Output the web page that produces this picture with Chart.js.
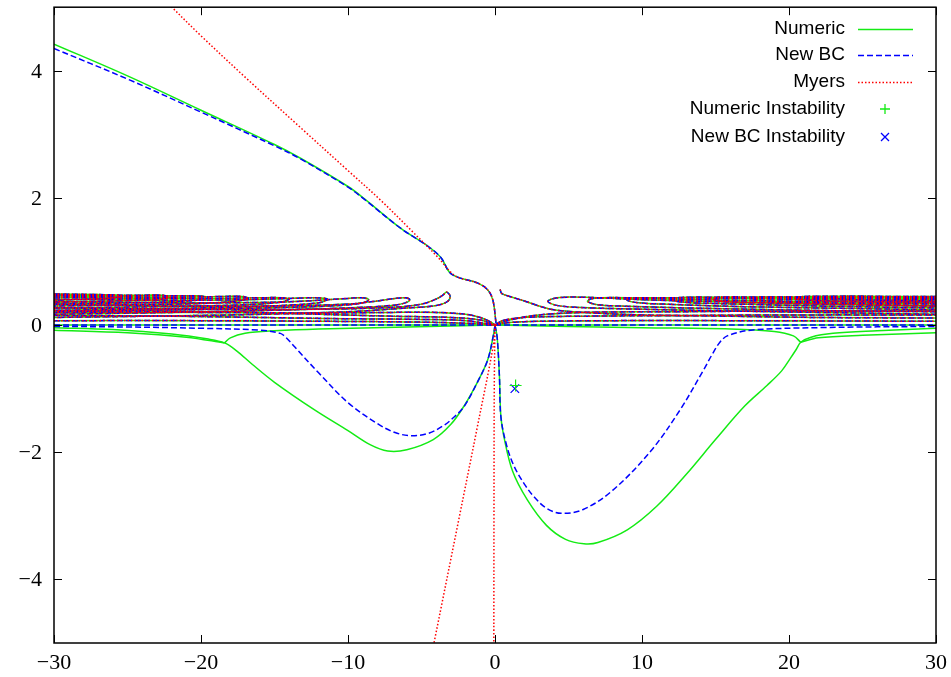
<!DOCTYPE html>
<html>
<head>
<meta charset="utf-8">
<script src="https://cdn.jsdelivr.net/npm/chart.js@4/dist/chart.umd.min.js"></script>
<style>
  html, body { margin: 0; padding: 0; background: #fff; }
  #wrap { width: 951px; height: 677px; }
</style>
</head>
<body>
<div id="wrap"><canvas id="chart" width="951" height="677"></canvas></div>
<script>
// ticks
const xTickValues = [-30, -20, -10, 0, 10, 20, 30];
const yTickValues = [-4, -2, 0, 2, 4];
const legendLabels = ['Numeric', 'New BC', 'Myers', 'Numeric Instability', 'New BC Instability'];

// upper branch
const upperNumeric = [[-30,4.42],[-25,3.92],[-20,3.38],[-15,2.84],[-13.2,2.62],[-10,2.18],[-8.9,1.99],[-6.4,1.52],[-4.56,1.24],[-3.67,1.06],[-3.1,0.83],[-2.5,0.75],[-1.16,0.66],[-0.48,0.55],[-0.14,0.39],[0.07,0.03]];
const upperNewBC = [[-30,4.35],[-25,3.87],[-20,3.35],[-15,2.82],[-13.2,2.61],[-10,2.17],[-8.9,1.98],[-6.4,1.52],[-4.56,1.24],[-3.67,1.06],[-3.1,0.83],[-2.5,0.75],[-1.16,0.66],[-0.48,0.55],[-0.14,0.39],[0.07,0.03]];
const upperMyers = [[-22.2,5.05],[-20,4.55],[-17,3.9],[-13.2,3.1],[-10,2.43],[-7.76,1.96],[-5.7,1.49],[-3.9,1.07],[-3.0,0.83],[-2.5,0.75],[-1.16,0.66],[-0.48,0.55],[-0.14,0.39],[0.07,0.03]];

// band of loops near zero (shared by all three)
const loopL1 = [[-30,0.27],[-20,0.25],[-12,0.25],[-7,0.28],[-5,0.33],[-4,0.41],[-3.5,0.48],[-3.3,0.52],[-3.05,0.45],[-3.3,0.36],[-4.2,0.3],[-6,0.27],[-10,0.21],[-18,0.16],[-30,0.12]];
const loopL2 = [[-30,0.33],[-22,0.3],[-15,0.3],[-10,0.33],[-8,0.38],[-6.8,0.42],[-6.1,0.43],[-5.8,0.4],[-6.1,0.35],[-7,0.31],[-9,0.28],[-14,0.24],[-22,0.2],[-30,0.17]];
const loopL3 = [[-30,0.37],[-22,0.35],[-15,0.36],[-12,0.39],[-10,0.42],[-9,0.43],[-8.6,0.4],[-9,0.35],[-10.5,0.31],[-14,0.28],[-22,0.24],[-30,0.21]];
const loopL4 = [[-30,0.41],[-22,0.39],[-17,0.4],[-14,0.42],[-12.2,0.43],[-11.4,0.41],[-11.8,0.36],[-13.5,0.32],[-18,0.28],[-25,0.25],[-30,0.23]];
const loopL5 = [[-30,0.44],[-24,0.42],[-19,0.42],[-16,0.43],[-14.5,0.43],[-14,0.41],[-14.6,0.36],[-17,0.32],[-23,0.29],[-30,0.27]];
const loopL6 = [[-30,0.46],[-25,0.44],[-21,0.44],[-18.5,0.45],[-17.2,0.45],[-16.8,0.42],[-17.5,0.38],[-20,0.34],[-25,0.32],[-30,0.3]];
const loopL7 = [[-30,0.47],[-26,0.46],[-23,0.46],[-20.3,0.46],[-19.5,0.43],[-20.3,0.39],[-23,0.36],[-30,0.33]];
const loopL8 = [[-30,0.48],[-27,0.47],[-24,0.47],[-22.6,0.47],[-22.2,0.44],[-23,0.4],[-26,0.38],[-30,0.36]];
const loopL9 = [[-30,0.49],[-27,0.48],[-25.6,0.47],[-25.4,0.45],[-26.5,0.42],[-30,0.39]];
const midL1 = [[-30,0.07],[-20,0.07],[-12,0.06],[-6,0.05],[-2,0.03],[0,0]];
const midL2 = [[-30,0.2],[-20,0.2],[-12,0.19],[-7,0.2],[-4,0.2],[-2,0.17],[-1,0.12],[-0.3,0.05],[0,0]];
const midL3 = [[-30,0.15],[-22,0.14],[-16,0.12],[-10,0.1],[-5,0.09],[-2,0.07],[0,0]];
const midL4 = [[-30,0.23],[-24,0.22],[-18,0.21],[-12,0.17],[-7,0.14],[-3,0.12],[-1,0.08],[0,0]];

const rootR = [[0.35,0.56],[0.45,0.5],[1,0.45],[2,0.38],[3,0.3],[4,0.24],[6,0.2],[10,0.16],[16,0.14],[22,0.12],[30,0.11]];
const loopR1 = [[30,0.3],[22,0.34],[15,0.37],[10,0.4],[7,0.43],[5,0.44],[4,0.42],[3.6,0.37],[4.2,0.31],[5.5,0.28],[8,0.26],[14,0.23],[22,0.2],[30,0.17]];
const loopR2 = [[30,0.34],[22,0.37],[16,0.39],[12,0.41],[9,0.43],[7.3,0.43],[6.5,0.41],[6.3,0.37],[7,0.32],[8.5,0.3],[13,0.27],[22,0.23],[30,0.21]];
const loopR3 = [[30,0.37],[22,0.4],[16,0.42],[12,0.43],[10,0.43],[9.2,0.42],[9,0.39],[9.8,0.35],[11.5,0.33],[17,0.29],[30,0.24]];
const loopR4 = [[30,0.4],[22,0.42],[17,0.43],[14,0.44],[12.4,0.43],[12,0.4],[12.8,0.36],[15,0.34],[22,0.3],[30,0.27]];
const loopR5 = [[30,0.42],[24,0.43],[18,0.44],[15.3,0.44],[14.8,0.41],[15.6,0.37],[18,0.35],[24,0.32],[30,0.3]];
const loopR6 = [[30,0.43],[25,0.44],[20,0.44],[18,0.44],[17.6,0.41],[18.5,0.38],[22,0.35],[30,0.33]];
const loopR7 = [[30,0.44],[25,0.45],[21,0.45],[20.4,0.42],[21.5,0.39],[25,0.37],[30,0.36]];
const loopR8 = [[30,0.45],[26,0.45],[23.6,0.45],[23.3,0.42],[24.5,0.4],[30,0.38]];
const midR1 = [[0,0],[1,0.04],[3,0.06],[8,0.07],[16,0.07],[30,0.06]];
const midR2 = [[0,0],[0.5,0.07],[1.5,0.11],[3,0.13],[6,0.14],[12,0.15],[20,0.16],[30,0.16]];
const midR3 = [[0,0],[1,0.08],[3,0.16],[6,0.2],[12,0.21],[20,0.22],[30,0.22]];
const zeroLine = [[-30,0],[30,0]];

// lower branches
const numLowL1 = [[-30,-0.04],[-26,-0.07],[-22,-0.14],[-19.5,-0.22],[-18.4,-0.28],[-17.6,-0.4],[-16.5,-0.62],[-15,-0.9],[-12.3,-1.33],[-10,-1.66],[-8.5,-1.88],[-7.3,-1.98],[-6,-1.96],[-4.2,-1.8],[-3,-1.56],[-2.1,-1.27],[-1.2,-0.9],[-0.5,-0.55],[-0.1,-0.15],[0,0]];
const numLowL2 = [[-18.4,-0.28],[-18,-0.2],[-17,-0.13],[-15,-0.09],[-12,-0.06],[-6,-0.03],[0,0]];
const numLowL3 = [[-30,-0.08],[-25,-0.12],[-21,-0.19],[-18.4,-0.28]];
const numLowR1 = [[0,0],[0.15,-0.2],[0.3,-0.8],[0.4,-1.44],[0.6,-1.75],[1.2,-2.3],[2.2,-2.75],[3.5,-3.15],[4.8,-3.37],[6.05,-3.44],[7,-3.42],[9,-3.22],[11,-2.85],[13,-2.35],[15,-1.8],[17,-1.27],[18.5,-0.95],[19.5,-0.72],[20.1,-0.52],[20.5,-0.38],[20.8,-0.27],[21.5,-0.19],[23,-0.13],[26,-0.09],[30,-0.05]];
const numLowR2 = [[20.8,-0.27],[20.3,-0.17],[19,-0.1],[16,-0.06],[10,-0.04],[0,0]];
const numLowR3 = [[20.8,-0.27],[22,-0.2],[25,-0.16],[30,-0.12]];
const newBCLowL = [[-30,-0.02],[-25,-0.03],[-20,-0.05],[-16,-0.08],[-14.6,-0.13],[-14.2,-0.2],[-13.6,-0.35],[-12,-0.75],[-10,-1.22],[-8,-1.55],[-6.8,-1.69],[-5.7,-1.74],[-4.5,-1.7],[-3.5,-1.58],[-2.8,-1.45],[-2.1,-1.28],[-1.2,-0.9],[-0.5,-0.55],[-0.1,-0.15],[0,0]];
const newBCLowR = [[0,0],[0.15,-0.2],[0.3,-0.8],[0.4,-1.44],[0.8,-1.9],[1.3,-2.22],[2,-2.5],[2.65,-2.7],[3.5,-2.88],[4.5,-2.96],[6,-2.9],[8,-2.6],[10.6,-1.98],[12.6,-1.33],[14.2,-0.7],[14.8,-0.45],[15.3,-0.27],[15.8,-0.17],[17.4,-0.08],[22,-0.04],[30,-0.02]];
const myersLowA = [[0,0],[-0.1,-0.3],[-1.2,-1.6],[-2.5,-3.1],[-4.15,-5.0]];
const myersLowB = [[0,0],[-0.05,-1],[-0.07,-3],[-0.08,-5]];

// instability points
const numericInstability = [[1.4, -0.95]];
const newBCInstability = [[1.35, -1.0]];

const GREEN = 'rgb(20,235,20)';
const BLUE = 'rgb(0,0,255)';
const RED = 'rgb(255,0,0)';
const DASH = [6, 3];
const DOT = [1.5, 2];
const TICK_FONT = '22px "Liberation Serif", "DejaVu Serif", serif';

const band = [loopL1, loopL2, loopL3, loopL4, loopL5, loopL6, loopL7, loopL8, loopL9, midL1, midL2, midL3, midL4,
  rootR, loopR1, loopR2, loopR3, loopR4, loopR5, loopR6, loopR7, loopR8, midR1, midR2, midR3];

function toXY(arr) { return arr.map(p => ({ x: p[0], y: p[1] })); }

function lineSet(arr, color, dash, order) {
  return {
    data: toXY(arr),
    showLine: true,
    borderColor: color,
    borderWidth: 1.5,
    borderDash: dash,
    pointRadius: 0,
    pointHoverRadius: 0,
    fill: false,
    tension: 0.35,
    order: order
  };
}

const datasets = [];
[upperNumeric, zeroLine, numLowL1, numLowL2, numLowL3, numLowR1, numLowR2, numLowR3].concat(band)
  .forEach(a => datasets.push(lineSet(a, GREEN, [], 3)));
[upperNewBC, zeroLine, newBCLowL, newBCLowR].concat(band)
  .forEach(a => datasets.push(lineSet(a, BLUE, DASH, 2)));
[upperMyers, myersLowA, myersLowB].concat(band)
  .forEach(a => datasets.push(lineSet(a, RED, DOT, 1)));
datasets.push({ data: toXY(numericInstability), pointStyle: 'cross', pointRadius: 6, borderColor: GREEN, borderWidth: 1.2, order: 0 });
datasets.push({ data: toXY(newBCInstability), pointStyle: 'crossRot', pointRadius: 6, borderColor: BLUE, borderWidth: 1.2, order: 0 });

function fmt(v) { return v < 0 ? '\u2212' + Math.abs(v) : String(v); }

// frame, inside ticks, tick labels and the legend, drawn like gnuplot
const gnuFrame = {
  id: 'gnuFrame',
  afterDraw(chart) {
    const { ctx, chartArea: a, scales } = chart;
    ctx.save();
    ctx.strokeStyle = '#000';
    ctx.lineWidth = 1.5;
    ctx.setLineDash([]);
    ctx.strokeRect(a.left, a.top, a.right - a.left, a.bottom - a.top);
    ctx.lineWidth = 1;
    const t = 8;
    ctx.beginPath();
    xTickValues.forEach(v => {
      const px = Math.round(scales.x.getPixelForValue(v)) + 0.5;
      ctx.moveTo(px, a.bottom); ctx.lineTo(px, a.bottom - t);
      ctx.moveTo(px, a.top); ctx.lineTo(px, a.top + t);
    });
    yTickValues.forEach(v => {
      const py = Math.round(scales.y.getPixelForValue(v)) + 0.5;
      ctx.moveTo(a.left, py); ctx.lineTo(a.left + t, py);
      ctx.moveTo(a.right, py); ctx.lineTo(a.right - t, py);
    });
    ctx.stroke();

    ctx.fillStyle = '#000';
    ctx.font = TICK_FONT;
    ctx.textAlign = 'center';
    ctx.textBaseline = 'middle';
    xTickValues.forEach(v => ctx.fillText(fmt(v), scales.x.getPixelForValue(v), a.bottom + 20));
    ctx.textAlign = 'right';
    yTickValues.forEach(v => ctx.fillText(fmt(v), a.left - 12, scales.y.getPixelForValue(v) + 1));

    // legend
    ctx.font = '19px "Liberation Sans", Arial, sans-serif';
    ctx.textAlign = 'right';
    const rows = [29, 55, 82, 109, 137];
    const styles = [[GREEN, []], [BLUE, DASH], [RED, DOT]];
    rows.forEach((y, i) => {
      ctx.fillText(legendLabels[i], 845, y);
      ctx.lineWidth = 1.3;
      if (i < 3) {
        ctx.strokeStyle = styles[i][0];
        ctx.setLineDash(styles[i][1]);
        ctx.beginPath(); ctx.moveTo(858, y + 0.5); ctx.lineTo(913, y + 0.5); ctx.stroke();
      } else {
        ctx.setLineDash([]);
        ctx.strokeStyle = i === 3 ? GREEN : BLUE;
        ctx.beginPath();
        if (i === 3) {
          ctx.moveTo(880, y); ctx.lineTo(890, y); ctx.moveTo(885, y - 5); ctx.lineTo(885, y + 5);
        } else {
          ctx.moveTo(881, y - 4); ctx.lineTo(889, y + 4); ctx.moveTo(889, y - 4); ctx.lineTo(881, y + 4);
        }
        ctx.stroke();
      }
    });
    ctx.restore();
  }
};

new Chart(document.getElementById('chart'), {
  type: 'scatter',
  data: { datasets: datasets },
  options: {
    responsive: false,
    animation: false,
    events: [],
    layout: { padding: { left: 0, right: 15, top: 6, bottom: 0 } },
    plugins: { legend: { display: false }, tooltip: { enabled: false } },
    scales: {
      x: {
        type: 'linear', min: -30, max: 30,
        afterBuildTicks: s => { s.ticks = xTickValues.map(v => ({ value: v })); },
        afterFit: s => { s.height = 34; },
        grid: { display: false, drawTicks: false },
        border: { display: false },
        ticks: { display: false }
      },
      y: {
        type: 'linear', min: -5, max: 5,
        afterBuildTicks: s => { s.ticks = yTickValues.map(v => ({ value: v })); },
        afterFit: s => { s.width = 54; },
        grid: { display: false, drawTicks: false },
        border: { display: false },
        ticks: { display: false }
      }
    }
  },
  plugins: [gnuFrame]
});
</script>
</body>
</html>
